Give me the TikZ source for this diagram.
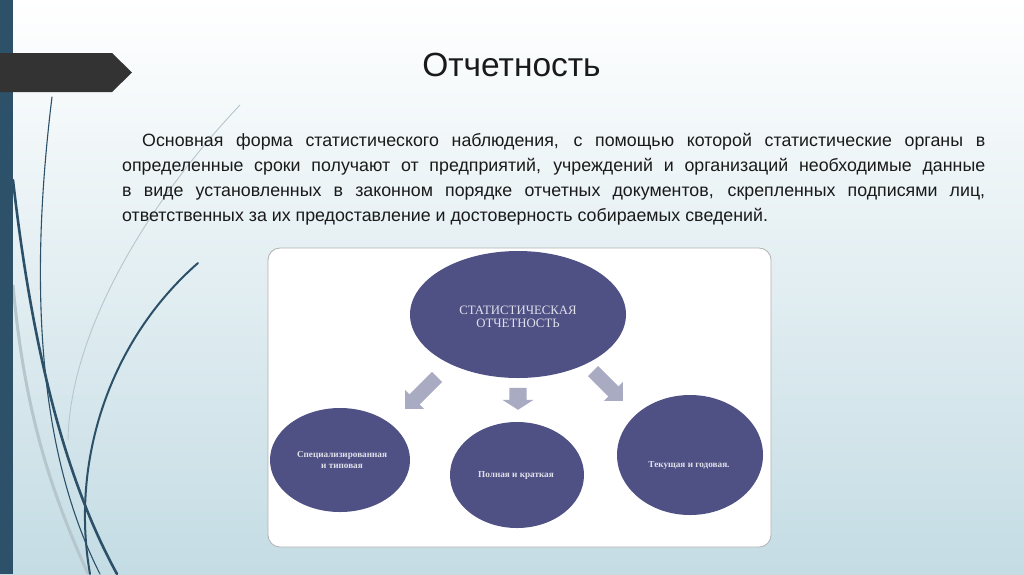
\documentclass[tikz,border=0pt]{standalone}
\usepackage{fontspec}
\setmainfont{Liberation Sans}
\newfontfamily\serifcyr{Liberation Serif}
\usetikzlibrary{shapes.geometric,shapes.arrows}
\definecolor{bartc}{HTML}{2C5168}
\definecolor{bannerc}{HTML}{333333}
\definecolor{ellc}{HTML}{4F5185}
\definecolor{arrc}{HTML}{A9ABC3}
\definecolor{curvec}{HTML}{2B5068}
\definecolor{lightc}{HTML}{B6C6CD}
\definecolor{bgbot}{HTML}{C4DCE4}
\definecolor{boxline}{HTML}{B0B0B0}
\definecolor{elltext}{HTML}{E0E0EA}
\definecolor{textc}{HTML}{1A1A1A}
\tikzset{
  ell/.style={ellipse, fill=ellc, inner sep=0pt},
  etext/.style={text=elltext, align=center, inner sep=0pt},
  smalltext/.style={etext, font=\serifcyr\bfseries\fontsize{9.2}{11}\selectfont},
  blockarr/.style={single arrow, fill=arrc, inner sep=0pt, anchor=tip},
  paraline/.style={anchor=base west, inner sep=0pt, text=textc, font=\fontsize{17.8}{25}\selectfont},
  thincurve/.style={curvec, line cap=round},
}
\begin{document}
\begin{tikzpicture}[x=1pt,y=-1pt]
\useasboundingbox (0,0) rectangle (1024,574);
% background
\shade[top color=white, middle color=bgbot!40!white, bottom color=bgbot] (0,0) rectangle (1024,574);
% decorative curves
\draw[lightc, line width=0.9pt] (240,105) .. controls (150,200) and (70,330) .. (68,440);
\draw[lightc, line width=3pt] (13,285) .. controls (25,420) and (55,500) .. (88,574);
\draw[thincurve, line width=1.1pt] (52,97) .. controls (32,260) and (32,440) .. (100,574);
\draw[thincurve, line width=2.6pt] (13,180) .. controls (30,330) and (60,470) .. (117,574);
\draw[thincurve, line width=2pt] (198,263) .. controls (110,340) and (70,460) .. (90,574);
% left bar and banner
\fill[bartc] (0,0) rectangle (13,574);
\fill[bannerc] (0,53) -- (112,53) -- (132,72.5) -- (112,92) -- (0,92) -- cycle;
% title
\node[text=textc, font=\fontsize{33.5}{38}\selectfont, inner sep=0pt, anchor=base] (title) at (511.5,76.5) {Отчетность};
% paragraph
\node[paraline] (p1) at (142,146) {\makebox[843pt][s]{Основная форма статистического наблюдения, с помощью которой статистические органы в}};
\node[paraline] (p2) at (122,171) {\makebox[863pt][s]{определенные сроки получают от предприятий, учреждений и организаций необходимые данные}};
\node[paraline] (p3) at (122,196) {\makebox[863pt][s]{в виде установленных в законном порядке отчетных документов, скрепленных подписями лиц,}};
\node[paraline] (p4) at (122,221) {ответственных за их предоставление и достоверность собираемых сведений.};
% picture box
\draw[boxline, fill=white, line width=0.8pt, rounded corners=12pt] (268,248) rectangle (771,547);
% ellipses
\node[ell, minimum width=216pt, minimum height=127pt] (main) at (518,314.5) {};
\node[etext, font=\serifcyr\fontsize{12.8}{12.5}\selectfont] (maintext) at (518,317) {СТАТИСТИЧЕСКАЯ\\ОТЧЕТНОСТЬ};
\node[ell, minimum width=140pt, minimum height=104pt] (left) at (340,460) {};
\node[smalltext] (lefttext) at (342,460) {Специализированная\\и типовая};
\node[ell, minimum width=134pt, minimum height=106pt] (mid) at (517,475) {};
\node[smalltext] (midtext) at (516,475) {Полная и краткая};
\node[ell, minimum width=146pt, minimum height=120pt] (right) at (690,455) {};
\node[smalltext] (righttext) at (689,465) {Текущая и годовая.};
% block arrows
\node[blockarr, single arrow tip angle=90, single arrow head extend=6pt, minimum height=45pt, rotate=225] (aleft) at (405,409) {\rule{0pt}{14pt}};
\node[blockarr, single arrow tip angle=115, single arrow head extend=7pt, minimum height=22pt, rotate=270] (amid) at (518,410) {\rule{0pt}{17pt}};
\node[blockarr, single arrow tip angle=90, single arrow head extend=6pt, minimum height=42pt, rotate=315] (aright) at (623,401) {\rule{0pt}{14pt}};
\end{tikzpicture}
\end{document}
